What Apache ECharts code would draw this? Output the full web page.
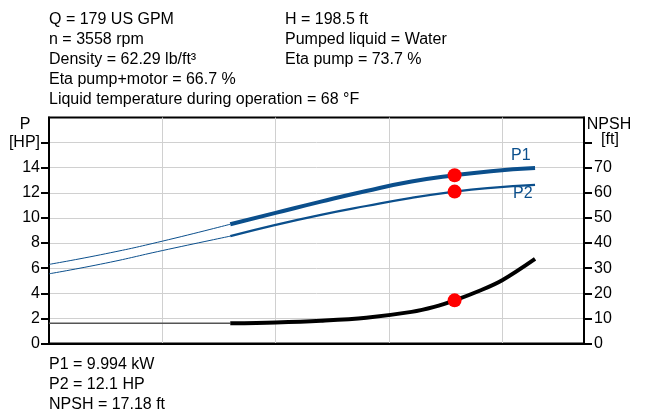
<!DOCTYPE html>
<html>
<head>
<meta charset="utf-8">
<script src="https://cdn.jsdelivr.net/npm/echarts@6/dist/echarts.min.js"></script>
<style>
  html, body { margin: 0; padding: 0; background: #fff; }
  #chart { width: 649px; height: 416px; }
</style>
</head>
<body>
<div id="chart"></div>
<script>
// header / footer text
const infoLeft = ['Q = 179 US GPM', 'n = 3558 rpm', 'Density = 62.29 lb/ft³', 'Eta pump+motor = 66.7 %', 'Liquid temperature during operation = 68 °F']
const infoRight = ['H = 198.5 ft', 'Pumped liquid = Water', 'Eta pump = 73.7 %']
const infoBottom = ['P1 = 9.994 kW', 'P2 = 12.1 HP', 'NPSH = 17.18 ft']

// flow in US GPM, thin extension below the allowed range
const flowExt = [0, 25, 50, 80]
const p1Ext = [6.3, 7.15, 8.15, 9.5]
const p2Ext = [5.55, 6.4, 7.4, 8.55]
const npshExt = [8.05, 8.05, 8.05, 8.05]

// allowed operating range
const flow = [80, 100, 120, 140, 160, 179, 195, 214.5]
const p1 = [9.5, 10.4, 11.3, 12.15, 12.9, 13.4, 13.72, 13.97]
const p2 = [8.55, 9.45, 10.25, 10.95, 11.6, 12.1, 12.4, 12.64]

// npsh curve, sampled a little finer near the bend
const flowNpsh = [80, 100, 120, 140, 160, 170, 179, 190, 200, 214.5]
const npsh = [8.05, 8.4, 9.1, 10.3, 12.6, 14.6, 17.18, 21.0, 25.2, 33.7]

// duty point
const dutyQ = 179
const dutyP1 = 13.4
const dutyP2 = 12.1
const dutyNpsh = 17.18

// axis ticks
const pTicks = [0, 2, 4, 6, 8, 10, 12, 14, 16]
const npshTicks = [0, 10, 20, 30, 40, 50, 60, 70, 80]

const blue = '#0b4f8c'
const font = 'Arial, "Liberation Sans", sans-serif'

const zip = (xs, ys) => xs.map((x, i) => [x, ys[i]])

const chart = echarts.init(document.getElementById('chart'))

const textStyle = { fontFamily: font, fontSize: 16, fill: '#000', lineHeight: 20 }
const labelStyle = (text, x, y) => ({
  type: 'text', x, y,
  style: { text, fontFamily: font, fontSize: 16, fill: '#000', align: 'center', verticalAlign: 'middle' }
})

chart.setOption({
  animation: false,
  grid: {
    left: 49,
    right: 65,
    top: 117.5,
    bottom: 72.5,
    show: true,
    borderColor: '#000',
    borderWidth: 2
  },
  graphic: [
    { type: 'text', left: 49, top: 10, style: Object.assign({ text: infoLeft.join('\n') }, textStyle) },
    { type: 'text', left: 285, top: 10, style: Object.assign({ text: infoRight.join('\n') }, textStyle) },
    { type: 'text', left: 49, top: 355, style: Object.assign({ text: infoBottom.join('\n') }, textStyle) },
    labelStyle('P', 25, 125),
    labelStyle('NPSH', 609, 125),
    labelStyle('[ft]', 610, 140)
  ],
  xAxis: {
    type: 'value',
    min: 0,
    max: 236.1,
    interval: 50,
    axisLine: { show: true, lineStyle: { color: '#000', width: 2 } },
    axisTick: { show: false },
    axisLabel: { show: false },
    splitLine: { show: true, lineStyle: { color: '#d0d0d0', width: 1 } }
  },
  yAxis: [{
    type: 'value',
    position: 'left',
    min: 0,
    max: 18,
    interval: 2,
    axisLine: { show: true, lineStyle: { color: '#000', width: 2 } },
    axisTick: { show: true, length: 8, lineStyle: { color: '#000', width: 2 }, customValues: pTicks },
    axisLabel: {
      customValues: pTicks,
      margin: 9,
      color: '#000',
      fontFamily: font,
      fontSize: 16,
      formatter: v => (v === 16 ? '[HP]' : String(v))
    },
    splitLine: { show: true, lineStyle: { color: '#d0d0d0', width: 1 } }
  }, {
    type: 'value',
    position: 'right',
    min: 0,
    max: 90,
    interval: 10,
    axisLine: { show: true, lineStyle: { color: '#000', width: 2 } },
    axisTick: { show: true, length: 8, lineStyle: { color: '#000', width: 2 }, customValues: npshTicks },
    axisLabel: {
      customValues: npshTicks,
      margin: 10,
      color: '#000',
      fontFamily: font,
      fontSize: 16,
      formatter: v => (v === 80 ? '' : String(v))
    },
    splitLine: { show: false }
  }],
  series: [{
    name: 'P1 ext',
    type: 'line',
    data: zip(flowExt, p1Ext),
    smooth: true,
    symbol: 'none',
    lineStyle: { color: blue, width: 1 }
  }, {
    name: 'P2 ext',
    type: 'line',
    data: zip(flowExt, p2Ext),
    smooth: true,
    symbol: 'none',
    lineStyle: { color: blue, width: 1 }
  }, {
    name: 'NPSH ext',
    type: 'line',
    yAxisIndex: 1,
    data: zip(flowExt, npshExt),
    symbol: 'none',
    lineStyle: { color: '#555', width: 1.5 }
  }, {
    name: 'P1',
    type: 'line',
    data: zip(flow, p1),
    smooth: true,
    symbol: 'none',
    lineStyle: { color: blue, width: 4 },
    endLabel: { show: true, formatter: 'P1', offset: [-32, -13], color: blue, fontFamily: font, fontSize: 16 }
  }, {
    name: 'P2',
    type: 'line',
    data: zip(flow, p2),
    smooth: true,
    symbol: 'none',
    lineStyle: { color: blue, width: 2.2 },
    endLabel: { show: true, formatter: 'P2', offset: [-30, 9], color: blue, fontFamily: font, fontSize: 16 }
  }, {
    name: 'NPSH',
    type: 'line',
    yAxisIndex: 1,
    data: zip(flowNpsh, npsh),
    smooth: 0.35,
    symbol: 'none',
    lineStyle: { color: '#000', width: 4 }
  }, {
    name: 'duty P',
    type: 'scatter',
    data: [[dutyQ, dutyP1], [dutyQ, dutyP2]],
    symbolSize: 14,
    itemStyle: { color: '#ff0000', opacity: 1 },
    z: 5
  }, {
    name: 'duty NPSH',
    type: 'scatter',
    yAxisIndex: 1,
    data: [[dutyQ, dutyNpsh]],
    symbolSize: 14,
    itemStyle: { color: '#ff0000', opacity: 1 },
    z: 5
  }]
})
</script>
</body>
</html>
